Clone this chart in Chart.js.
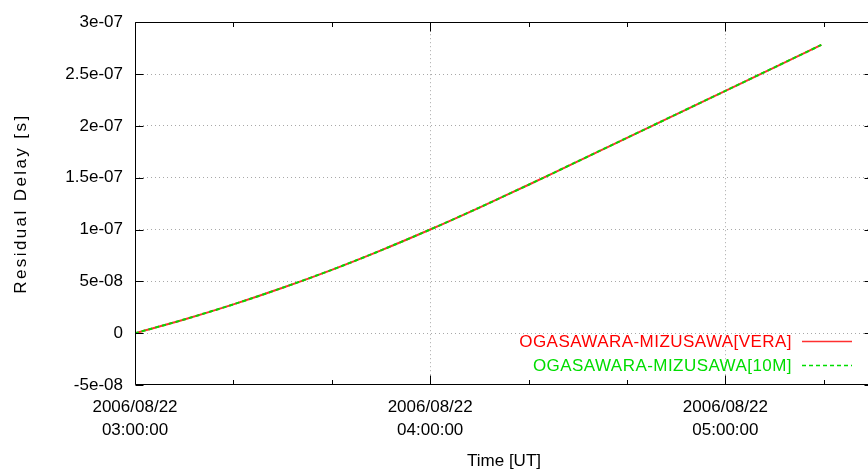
<!DOCTYPE html>
<html><head><meta charset="utf-8">
<script src="https://cdn.jsdelivr.net/npm/chart.js@4/dist/chart.umd.min.js"></script>
<style>
html,body{margin:0;padding:0;overflow:hidden;background:#fff;width:868px;height:474px}
#wrap{width:880px;height:474px;position:relative;background:#fff}
</style></head>
<body><div id="wrap"><canvas id="c" width="880" height="474"></canvas></div>
<script>
// ---- data ----
const times = ['03:00:00','03:10:00','03:20:00','03:30:00','03:40:00','03:50:00','04:00:00',
               '04:10:00','04:20:00','04:30:00','04:40:00','04:50:00','05:00:00','05:10:00','05:19:30'];
const veraDelay = [0, 1.32e-8, 2.78e-8, 4.38e-8, 6.11e-8, 7.99e-8, 1.0e-7,
                   1.212e-7, 1.432e-7, 1.658e-7, 1.885e-7, 2.111e-7, 2.338e-7, 2.565e-7, 2.781e-7];
const m10Delay  = [0, 1.32e-8, 2.78e-8, 4.38e-8, 6.11e-8, 7.99e-8, 1.0e-7,
                   1.212e-7, 1.432e-7, 1.658e-7, 1.885e-7, 2.111e-7, 2.338e-7, 2.565e-7, 2.781e-7];
const seriesNames = ['OGASAWARA-MIZUSAWA[VERA]', 'OGASAWARA-MIZUSAWA[10M]'];
const xRange = ['03:00:00', '05:30:00'];
const xTickTimes = ['03:00:00','03:20:00','03:40:00','04:00:00','04:20:00','04:40:00','05:00:00','05:20:00'];
const xTickLabels = [['2006/08/22','03:00:00'], '', '', ['2006/08/22','04:00:00'], '', '', ['2006/08/22','05:00:00'], ''];
const yTickValues = [-5e-8, 0, 5e-8, 1e-7, 1.5e-7, 2e-7, 2.5e-7, 3e-7];
const yTickLabels = ['-5e-08', '0', '5e-08', '1e-07', '1.5e-07', '2e-07', '2.5e-07', '3e-07'];
const xTitle = 'Time [UT]';
const yTitle = 'Residual Delay [s]';

function toMin(s){ const p = s.split(':').map(Number); return (p[0]-3)*60 + p[1] + (p[2]||0)/60; }
const isMajor = v => Math.abs(v % 60) < 1e-9;

const FONT = {family: '"Liberation Sans", Arial, Helvetica, sans-serif', size: 17};
const RED = '#ff3030', GREEN = '#00dd00';
const GRID = '#a8a8a8';

const framePlugin = {
  id: 'frame',
  afterDatasetsDraw(chart) {
    const {ctx, chartArea: a, scales: {x, y}} = chart;
    ctx.save();
    ctx.strokeStyle = '#000';
    ctx.lineWidth = 1;
    const L = Math.round(a.left) + 0.5, R = Math.round(a.right) - 0.5;
    const T = Math.round(a.top) + 0.5, B = Math.round(a.bottom) - 0.5;
    ctx.beginPath();
    ctx.moveTo(L, T); ctx.lineTo(R, T); ctx.lineTo(R, B); ctx.lineTo(L, B); ctx.closePath();
    ctx.stroke();
    ctx.beginPath();
    xTickTimes.forEach(t => {
      const v = toMin(t);
      const px = Math.round(x.getPixelForValue(v)) + 0.5;
      const len = isMajor(v) ? 9 : 4.5;
      ctx.moveTo(px, B); ctx.lineTo(px, B - len);
      ctx.moveTo(px, T); ctx.lineTo(px, T + len);
    });
    yTickValues.forEach(v => {
      const py = Math.round(y.getPixelForValue(v)) + 0.5;
      ctx.moveTo(L, py); ctx.lineTo(L + 8, py);
      ctx.moveTo(R, py); ctx.lineTo(R - 8, py);
    });
    ctx.stroke();
    ctx.restore();
  },
  afterDraw(chart) {
    const {ctx, chartArea: a} = chart;
    ctx.save();
    // y title
    ctx.font = `${FONT.size}px ${FONT.family}`;
    ctx.fillStyle = '#000';
    ctx.translate(21, (a.top + a.bottom) / 2);
    ctx.rotate(-Math.PI / 2);
    ctx.textAlign = 'center';
    ctx.textBaseline = 'middle';
    try { ctx.letterSpacing = '2.4px'; } catch (e) {}
    ctx.fillText(yTitle, 0, 0);
    ctx.restore();
    // legend
    ctx.save();
    try { ctx.letterSpacing = '0.45px'; } catch (e) {}
    ctx.font = `${FONT.size}px ${FONT.family}`;
    ctx.textAlign = 'right';
    ctx.textBaseline = 'middle';
    const rows = [342, 366];
    chart.data.datasets.forEach((ds, i) => {
      const yy = rows[i];
      ctx.fillStyle = i === 0 ? '#ff0000' : '#00dd00';
      ctx.fillText(ds.label, 792, yy);
      ctx.strokeStyle = ds.borderColor;
      ctx.lineWidth = 1.5;
      ctx.setLineDash(ds.borderDash || []);
      ctx.beginPath();
      ctx.moveTo(802, yy - 0.5); ctx.lineTo(852, yy - 0.5);
      ctx.stroke();
    });
    ctx.restore();
  }
};

new Chart(document.getElementById('c'), {
  type: 'line',
  data: {
    datasets: [
      {label: seriesNames[0], data: times.map((t, i) => ({x: toMin(t), y: veraDelay[i]})),
       borderColor: RED, borderWidth: 2, pointRadius: 0, tension: 0.3, order: 2},
      {label: seriesNames[1], data: times.map((t, i) => ({x: toMin(t), y: m10Delay[i]})),
       borderColor: GREEN, borderWidth: 2, borderDash: [4, 3], pointRadius: 0, tension: 0.3, order: 1}
    ]
  },
  options: {
    responsive: false, animation: false, devicePixelRatio: 1,
    layout: {padding: {left: 0, top: 18, right: 7, bottom: 0}},
    plugins: {legend: {display: false}, tooltip: {enabled: false}},
    scales: {
      x: {
        type: 'linear', min: toMin(xRange[0]), max: toMin(xRange[1]),
        afterBuildTicks: s => { s.ticks = xTickTimes.map(t => ({value: toMin(t)})); },
        afterFit: s => { s.height = 89; },
        ticks: {autoSkip: false, maxRotation: 0, minRotation: 0, padding: 11, color: '#000',
                font: {...FONT, lineHeight: '23px'}, callback: (v, i) => xTickLabels[i]},
        grid: {drawTicks: false, lineWidth: 1,
               color: c => (c.tick && isMajor(c.tick.value) && c.tick.value > 0) ? GRID : 'rgba(0,0,0,0)'},
        border: {display: false, dash: [1, 3]},
        title: {display: true, text: xTitle, color: '#000', font: FONT, padding: {top: 0, bottom: 2}}
      },
      y: {
        type: 'linear', min: yTickValues[0], max: yTickValues[yTickValues.length - 1],
        afterBuildTicks: s => { s.ticks = yTickValues.map(v => ({value: v})); },
        afterFit: s => { s.width = 135; },
        ticks: {padding: 12, color: '#000', font: FONT, callback: (v, i) => yTickLabels[i]},
        grid: {drawTicks: false, lineWidth: 1,
               color: c => (c.index > 0 && c.index < yTickValues.length - 1) ? GRID : 'rgba(0,0,0,0)'},
        border: {display: false, dash: [1, 3]}
      }
    }
  },
  plugins: [framePlugin]
});
</script>
</body></html>
